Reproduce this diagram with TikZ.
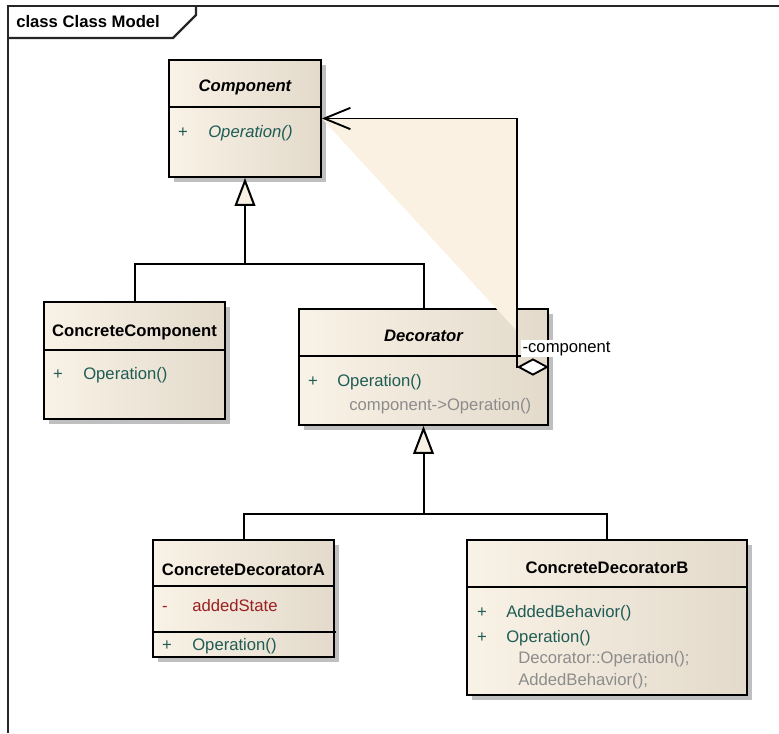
\documentclass[tikz,border=0pt]{standalone}
\usepackage{fontspec}
\setmainfont{Liberation Sans}
\usetikzlibrary{arrows.meta, shadows}
\definecolor{boxleft}{HTML}{F9F2E6}
\definecolor{boxright}{HTML}{E3DACB}
\definecolor{trifill}{HTML}{F8F0E3}
\definecolor{hilite}{HTML}{FAF1E3}
\definecolor{opgreen}{HTML}{1F5C55}
\definecolor{attrred}{HTML}{9A2020}
\definecolor{notegray}{HTML}{8C8C8C}
\newcommand{\umlfont}{\fontsize{12.5pt}{15pt}\selectfont}
\tikzset{
  classbox/.style={rectangle, draw=black, line width=1.4pt, inner sep=0pt,
                   left color=boxleft, right color=boxright,
                   drop shadow={shadow xshift=3.6pt, shadow yshift=-3.6pt,
                                fill=black!25, opacity=1}},
  divider/.style={line width=1.3pt},
  classname/.style={anchor=base, inner sep=0pt, font=\umlfont\bfseries},
  abstractname/.style={classname, font=\umlfont\bfseries\itshape},
  vis/.style={anchor=base, inner sep=0pt, text=opgreen},
  member/.style={anchor=base west, inner sep=0pt, text=opgreen},
  note/.style={anchor=base west, inner sep=0pt, text=notegray},
  gen/.style={-{Triangle[length=21pt, width=15.5pt, fill=trifill]}, line width=1.5pt},
  link/.style={line width=1.5pt},
  agg/.style={{Diamond[length=24pt, width=13pt, fill=white]}-{Straight Barb[length=19.5pt, width=16pt]},
              line width=1.4pt},
  frame/.style={line width=1.6pt, draw=black!85},
}

\begin{document}
\begin{tikzpicture}[x=0.75pt, y=-0.75pt, font=\umlfont]
  \useasboundingbox (0,0) rectangle (779,733);

  % Diagram frame
  \draw[frame] (8,733) -- (8,6) -- (779,6);
  \draw[frame] (8,38) -- (173,38) -- (196,15) -- (196,6);
  \node[anchor=base west, inner sep=0pt, font=\umlfont\bfseries] (frametitle) at (16,27) {class Class Model};

  % Class boxes
  \node[classbox, minimum width=114pt, minimum height=87.75pt] (comp) at (245,118.5) {};
  \node[classbox, minimum width=135.75pt, minimum height=87.75pt] (cc) at (134.5,360.5) {};
  \node[classbox, minimum width=186.75pt, minimum height=87pt] (dec) at (423.5,367) {};
  \node[classbox, minimum width=135.75pt, minimum height=87.75pt] (cda) at (243.5,598.5) {};
  \node[classbox, minimum width=210pt, minimum height=116.25pt] (cdb) at (607,617.5) {};

  % Compartments
  \draw[divider] (comp.west |- 0,107) -- (comp.east |- 0,107);
  \draw[divider] (cc.west |- 0,350) -- (cc.east |- 0,350);
  \draw[divider] (dec.west |- 0,356) -- (dec.east |- 0,356);
  \draw[divider] (cda.west |- 0,586) -- (cda.east |- 0,586);
  \draw[divider] (cda.west |- 0,632) -- (336,632);
  \draw[divider] (cdb.west |- 0,587) -- (cdb.east |- 0,587);

  % Component
  \node[abstractname] (comp-name) at (245,91) {Component};
  \node[vis] (comp-v1) at (183,137) {+};
  \node[member, font=\umlfont\itshape] (comp-op) at (208,137) {Operation()};

  % ConcreteComponent
  \node[classname] (cc-name) at (134.5,336) {ConcreteComponent};
  \node[vis] (cc-v1) at (58,379) {+};
  \node[member] (cc-op) at (83,379) {Operation()};

  % Decorator
  \node[abstractname] (dec-name) at (423.5,341) {Decorator};
  \node[vis] (dec-v1) at (313,386) {+};
  \node[member] (dec-op) at (337,386) {Operation()};
  \node[note] (dec-body) at (349,410) {component->Operation()};

  % ConcreteDecoratorA
  \node[classname] (cda-name) at (243.5,575) {ConcreteDecoratorA};
  \node[vis, text=attrred] (cda-v1) at (165,611) {-};
  \node[member, text=attrred] (cda-attr) at (192,611) {addedState};
  \node[vis] (cda-v2) at (167,650) {+};
  \node[member] (cda-op) at (192,650) {Operation()};

  % ConcreteDecoratorB
  \node[classname] (cdb-name) at (607,573) {ConcreteDecoratorB};
  \node[vis] (cdb-v1) at (482,617) {+};
  \node[member] (cdb-beh) at (506,617) {AddedBehavior()};
  \node[vis] (cdb-v2) at (482,642) {+};
  \node[member] (cdb-op) at (506,642) {Operation()};
  \node[note] (cdb-body1) at (518,663) {Decorator::Operation();};
  \node[note] (cdb-body2) at (518,685) {AddedBehavior();};

  % Selection highlight
  \coordinate (bend) at (516,118.5);
  \fill[hilite] (comp.east) -- (bend) -- (516,330) -- cycle;

  % Generalizations
  \coordinate (j1) at (245,264);
  \coordinate (j2) at (423.5,514);
  \draw[link] (cc.north) |- (j1) -| (dec.north);
  \draw[gen] (j1) -- (comp.south);
  \draw[link] (cda.north) |- (j2) -| (cdb.north);
  \draw[gen] (j2) -- (dec.south);

  % Aggregation
  \draw[agg] (dec.east) -- ++(-32,0) |- (comp.east);
  \node[anchor=base west, fill=white, inner sep=1pt] (role) at (521,352) {-component};
\end{tikzpicture}
\end{document}
